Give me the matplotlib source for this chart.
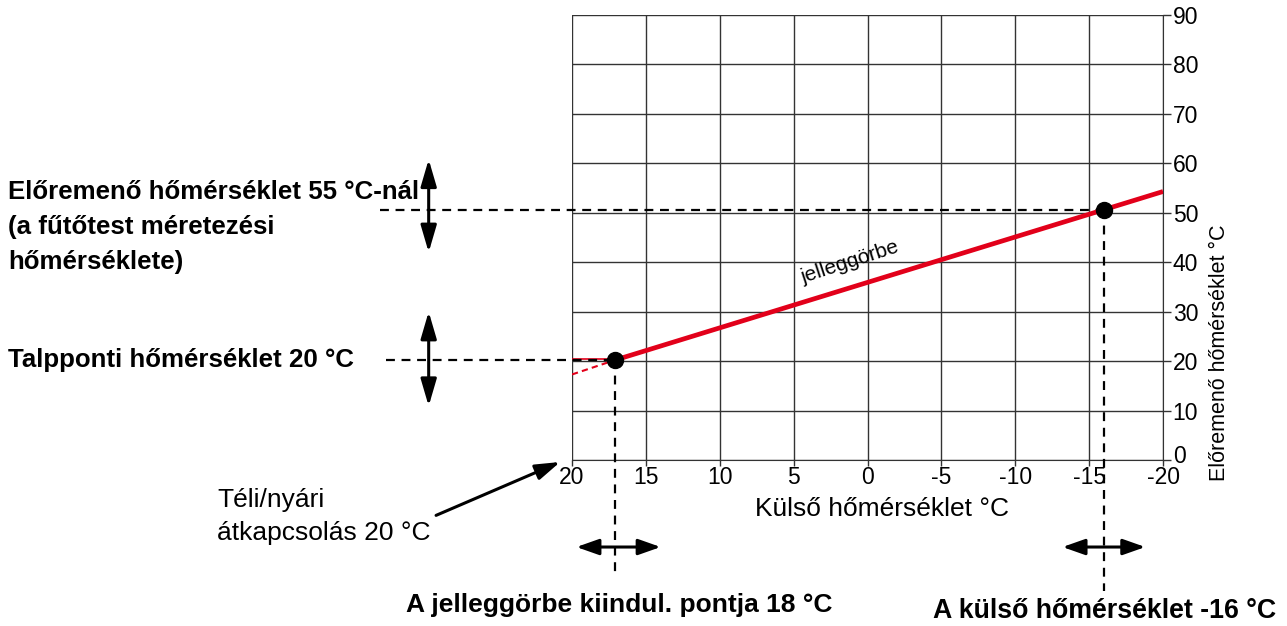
import matplotlib
matplotlib.use("Agg")
import matplotlib.pyplot as plt
from matplotlib.transforms import ScaledTranslation

plt.rcParams['font.family'] = ['Liberation Sans', 'DejaVu Sans']

W, H = 1287, 626
# data
x_ticks = [20, 15, 10, 5, 0, -5, -10, -15, -20]
y_ticks = [0, 10, 20, 30, 40, 50, 60, 70, 80, 90]
curve_x = [17.1, -20]
curve_y = [20.2, 54.3]
ext_x = [20, 17.1]
ext_y = [17.3, 20.2]
foot_x = [20, 17.1]
foot_y = [20.4, 20.4]
point_x = [17.1, -16]
point_y = [20.2, 50.6]

RED = '#e2001a'

fig = plt.figure(figsize=(W / 100, H / 100), dpi=100)
ax = fig.add_axes([572 / W, 1 - 460 / H, (1163 - 572) / W, (460 - 15) / H])
ax.set_xlim(20, -20)
ax.set_ylim(0, 90)
ax.set_xticks(x_ticks)
ax.set_yticks(y_ticks)
ax.set_xticklabels([str(v) for v in x_ticks])
ax.set_yticklabels([str(v) for v in y_ticks])
ax.grid(True, color='#333333', linewidth=1.0)
ax.set_axisbelow(True)
for s in ['top', 'left']:
    ax.spines[s].set_visible(False)
ax.spines['right'].set_color('#333333')
ax.spines['bottom'].set_color('#333333')
ax.yaxis.tick_right()
ax.tick_params(axis='y', direction='out', length=6, width=1, labelsize=16.5, pad=1, color='#333333')
ax.tick_params(axis='x', direction='out', length=4, width=1, labelsize=16.5, pad=0, color='#333333')
ax.yaxis.set_label_position('right')
ax.set_ylabel('Előremenő hőmérséklet °C', fontsize=15.5, labelpad=8, y=0.24)
ax.set_xlabel('Külső hőmérséklet °C', fontsize=19, labelpad=6, x=0.5245)

# nudge the "0" label of the y axis upwards, as in the reference
fig.canvas.draw()
lbl0 = ax.get_yticklabels()[0]
lbl0.set_transform(lbl0.get_transform() + ScaledTranslation(0, 6 / 100, fig.dpi_scale_trans))

# black dashed guide lines
ds = (0, (4, 3))
ax.plot([33.0, point_x[1]], [point_y[1], point_y[1]], ls=ds, color='black', lw=1.6, clip_on=False, zorder=3)
ax.plot([32.6, point_x[0]], [point_y[0], point_y[0]], ls=ds, color='black', lw=1.6, clip_on=False, zorder=3)
ax.plot([point_x[0], point_x[0]], [point_y[0], -23.3], ls=ds, color='black', lw=1.6, clip_on=False, zorder=3)
ax.plot([point_x[1], point_x[1]], [point_y[1], -26.5], ls=ds, color='black', lw=1.6, clip_on=False, zorder=3)

# red curve
ax.plot(curve_x, curve_y, color=RED, lw=3.4, solid_capstyle='butt', zorder=4)
ax.plot(ext_x, ext_y, color=RED, lw=1.5, ls=(0, (3, 2)), zorder=4)
ax.plot(foot_x, foot_y, color=RED, lw=1.2, zorder=2)
ax.plot(point_x, point_y, 'o', color='black', ms=11.5, zorder=5)

ax.text(1.2, 40.0, 'jelleggörbe', rotation=18, fontsize=15, ha='center', va='center')

# double arrows
arr_v = dict(arrowstyle='<|-|>,head_length=0.82,head_width=0.24', color='black', lw=2.2,
             mutation_scale=20, shrinkA=0, shrinkB=0)
arr_h = dict(arrowstyle='<|-|>,head_length=0.68,head_width=0.24', color='black', lw=2.2,
             mutation_scale=20, shrinkA=0, shrinkB=0)
ax.annotate('', xy=(29.7, 60.8), xytext=(29.7, 42.0), arrowprops=arr_v, annotation_clip=False)
ax.annotate('', xy=(29.7, 30.0), xytext=(29.7, 10.9), arrowprops=arr_v, annotation_clip=False)
ax.annotate('', xy=(19.7, -17.6), xytext=(14.0, -17.6), arrowprops=arr_h, annotation_clip=False)
ax.annotate('', xy=(-13.2, -17.6), xytext=(-18.8, -17.6), arrowprops=arr_h, annotation_clip=False)

# pointer arrow
ax.annotate('', xy=(20.8, -0.4), xytext=(29.2, -11.2),
            arrowprops=dict(arrowstyle='-|>,head_length=0.75,head_width=0.24', color='black', lw=2.2,
                            mutation_scale=20, shrinkA=0, shrinkB=0),
            annotation_clip=False)

def ft(x, y, s, **kw):
    fig.text(x / W, 1 - y / H, s, **kw)

bold = dict(fontsize=18.6, fontweight='bold', va='center')
ft(8, 192, 'Előremenő hőmérséklet 55 °C-nál', **bold)
ft(8, 227, '(a fűtőtest méretezési', **bold)
ft(8, 262, 'hőmérséklete)', **bold)
ft(8, 360, 'Talpponti hőmérséklet 20 °C', **bold)
ft(217, 500, 'Téli/nyári', fontsize=19, va='center')
ft(217, 533, 'átkapcsolás 20 °C', fontsize=19, va='center')
ft(619, 605, 'A jelleggörbe kiindul. pontja 18 °C', fontsize=19, fontweight='bold', va='center', ha='center')
ft(1105, 611, 'A külső hőmérséklet -16 °C', fontsize=19.3, fontweight='bold', va='center', ha='center')

fig.savefig('out.png', dpi=100)
